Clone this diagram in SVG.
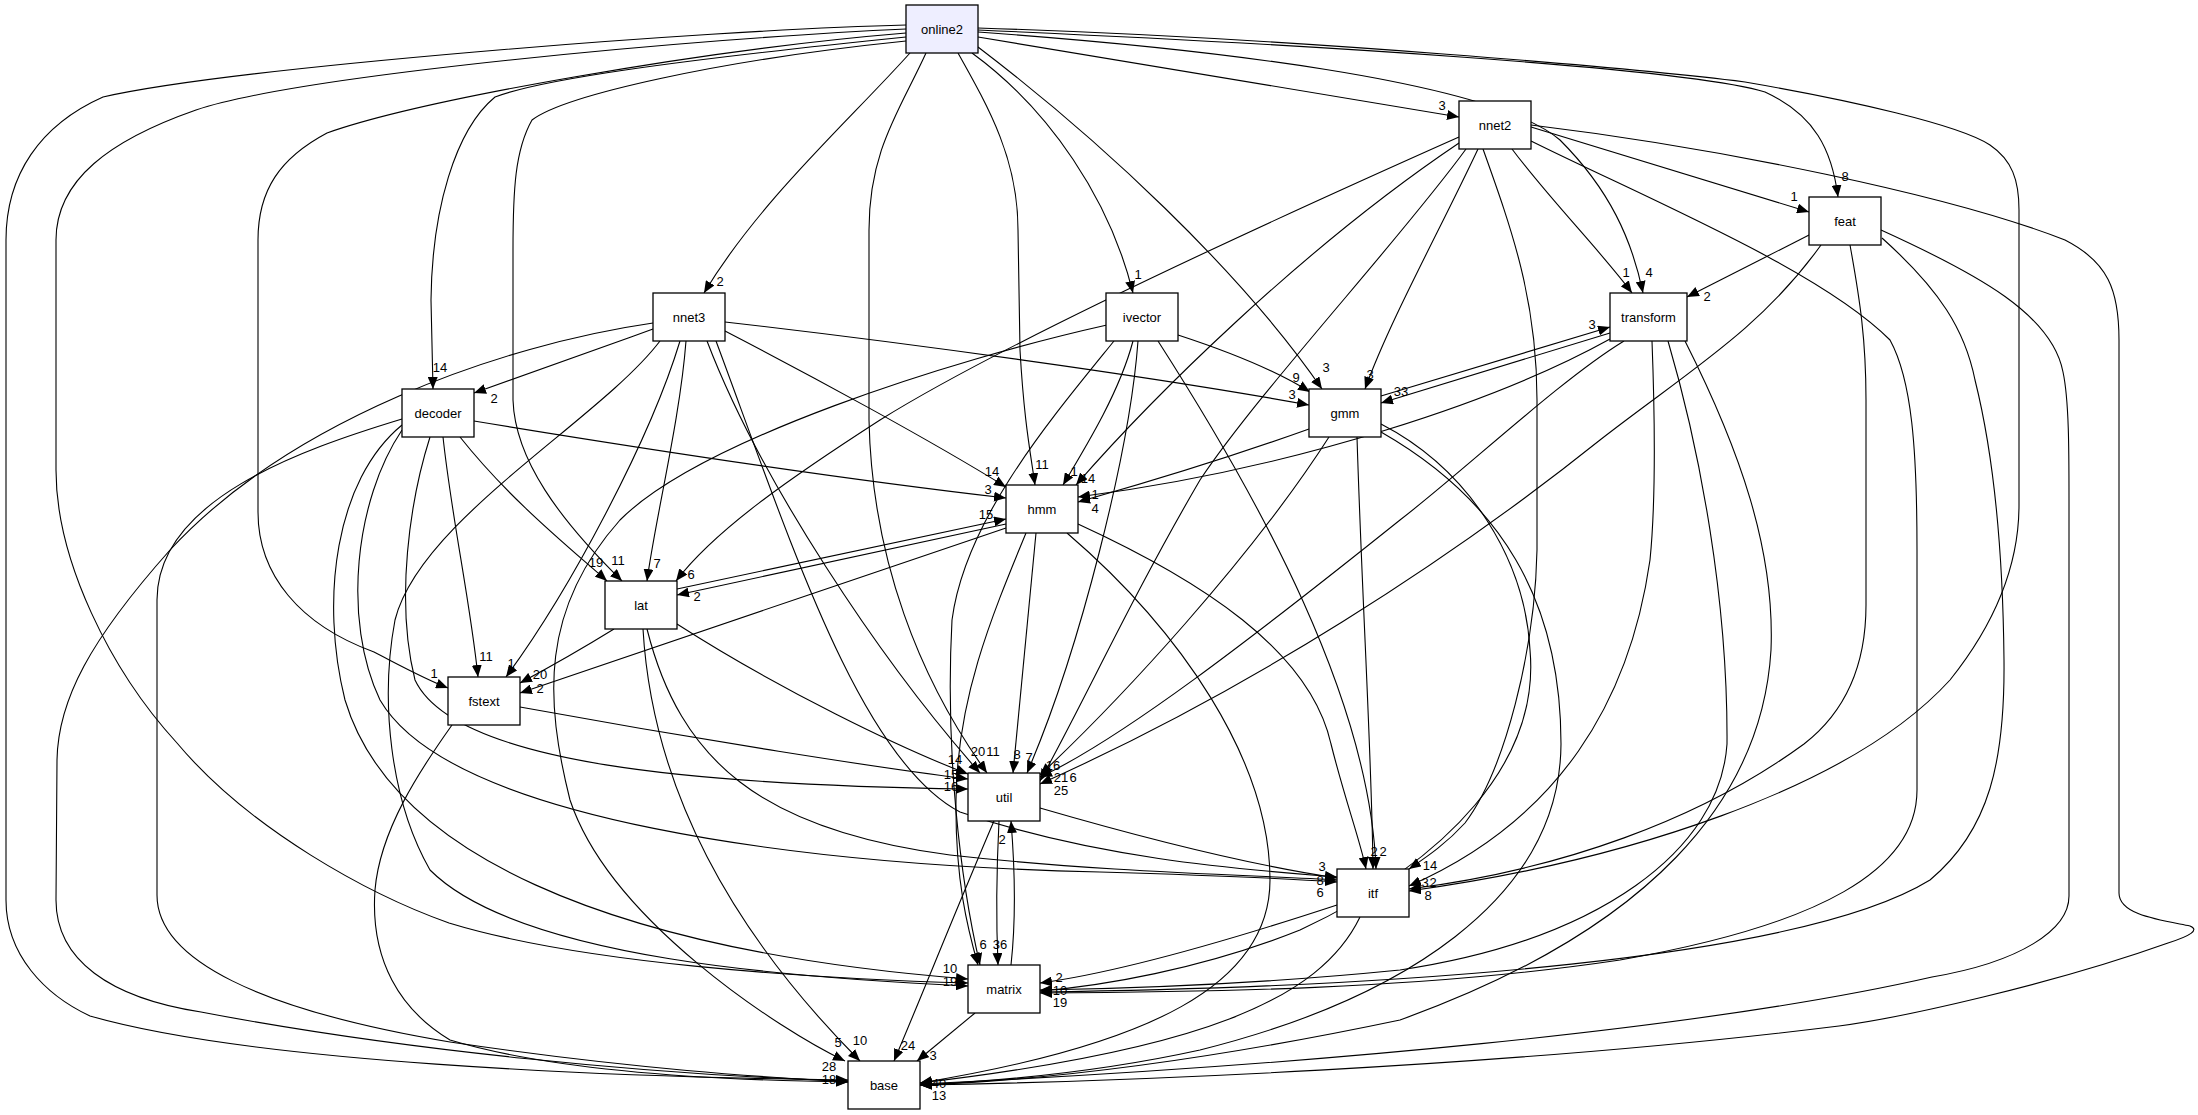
<svg xmlns="http://www.w3.org/2000/svg" width="2198" height="1115" viewBox="0 0 2198 1115">
<style>
.n rect{fill:#ffffff;stroke:#000000;stroke-width:1.3}
.n text{font-family:"Liberation Sans",Arial,sans-serif;font-size:13px;text-anchor:middle;fill:#000}
#edges path{fill:none;stroke:#000;stroke-width:1.1;marker-end:url(#ah)}
#labels text{font-family:"Liberation Sans Narrow","Liberation Sans",Arial,sans-serif;font-size:13px;text-anchor:middle;fill:#000}
</style>
<defs>
<marker id="ah" viewBox="0 0 12 10" refX="12" refY="5" markerWidth="12" markerHeight="10" markerUnits="userSpaceOnUse" orient="auto"><path d="M0,0L12,5L0,10z" fill="#000"/></marker>
</defs>
<rect width="2198" height="1115" fill="#fff"/>
<g id="edges">
<path d="M906,25 C700,30 230,68 103,97 C40,125 6,175 6,240 L6,900 C6,955 45,995 90,1016 C250,1062 600,1077 848,1080"/>
<path d="M906,29 C700,38 300,75 196,110 C110,140 56,180 56,240 L56,470 C56,560 110,670 177,743 C250,830 370,895 449,923 C580,963 800,978 968,983"/>
<path d="M906,33 C700,50 420,100 327,133 C280,158 258,190 258,240 L258,512 C258,575 300,625 374,652 C405,668 425,679 448,688"/>
<path d="M906,37 C660,62 540,80 495,97 C455,130 432,210 431,300 L433,389"/>
<path d="M906,41 C720,60 565,95 532,120 C515,150 513,190 513,250 L513,400 C515,460 560,520 622,581"/>
<path d="M910,53 C850,120 760,200 704,293"/>
<path d="M926,53 C900,110 869,150 869,230 L869,420 C872,560 920,680 987,773"/>
<path d="M958,53 C990,110 1018,160 1018,230 L1020,350 C1024,420 1030,450 1035,485"/>
<path d="M972,53 C1050,110 1110,200 1133,293"/>
<path d="M978,47 C1100,140 1240,270 1322,389"/>
<path d="M978,37 L1459,117"/>
<path d="M978,32 C1200,48 1490,80 1560,140 C1610,190 1632,240 1643,293"/>
<path d="M978,30 C1300,44 1690,68 1765,92 C1815,115 1832,150 1838,197"/>
<path d="M978,28 C1300,38 1650,70 1745,82 C1850,100 1960,125 1990,145 C2012,160 2019,180 2019,210 L2019,505 C2019,570 1990,630 1950,680 C1850,790 1620,862 1409,891"/>
<path d="M1531,127 L1809,212"/>
<path d="M1512,149 C1550,200 1600,250 1632,293"/>
<path d="M1478,149 C1440,230 1390,320 1365,389"/>
<path d="M1459,143 C1300,250 1150,400 1076,485"/>
<path d="M1459,137 C1250,230 1000,345 880,420 C790,478 715,530 676,581"/>
<path d="M1466,149 C1400,240 1260,390 1200,480 C1130,600 1085,700 1040,781"/>
<path d="M1483,149 C1512,230 1537,300 1537,400 L1537,550 C1535,650 1505,770 1465,823 C1445,845 1425,858 1409,869"/>
<path d="M1531,141 C1650,200 1820,270 1890,340 C1912,380 1917,450 1917,550 L1917,790 C1917,870 1820,925 1620,960 C1420,990 1200,992 1040,993"/>
<path d="M1531,125 C1720,148 1950,195 2065,240 C2108,262 2119,290 2119,340 L2119,893 C2119,915 2160,920 2190,926 C2200,930 2190,936 2168,943 C2050,985 1900,1018 1839,1026 C1500,1068 1100,1082 920,1085"/>
<path d="M653,329 C590,352 525,375 474,393"/>
<path d="M653,323 C500,345 290,420 170,550 C90,640 58,700 57,760 L56,900 C56,960 110,998 201,1012 C400,1050 650,1075 848,1081"/>
<path d="M680,341 C650,440 570,590 506,677"/>
<path d="M686,341 C680,420 655,520 647,581"/>
<path d="M725,331 C810,375 930,440 1006,487"/>
<path d="M707,341 C760,480 880,660 980,773"/>
<path d="M716,341 C790,540 860,760 960,812 C1100,860 1250,870 1337,877"/>
<path d="M660,341 C600,420 420,520 395,620 C380,700 390,800 430,870 C520,960 800,978 968,986"/>
<path d="M725,322 C900,342 1150,376 1309,405"/>
<path d="M1178,335 C1230,352 1280,373 1310,392"/>
<path d="M1133,341 C1120,390 1090,440 1063,485"/>
<path d="M1138,341 C1130,450 1080,650 1027,773"/>
<path d="M1114,341 C1050,420 965,520 952,620 C945,750 960,880 980,965"/>
<path d="M1158,341 C1260,500 1370,700 1376,869"/>
<path d="M1107,325 C950,360 700,440 620,520 C540,610 545,700 570,800 C610,920 780,1030 845,1061"/>
<path d="M460,437 C510,500 570,548 607,581"/>
<path d="M443,437 C452,520 470,600 478,677"/>
<path d="M474,421 C650,450 850,480 1006,498"/>
<path d="M430,437 C410,500 395,600 415,680 C455,765 700,785 968,789"/>
<path d="M402,425 C335,480 320,600 345,700 C390,850 600,950 968,979"/>
<path d="M402,430 C355,500 342,620 380,700 C450,820 800,865 1100,872 C1200,875 1280,878 1337,882"/>
<path d="M402,419 C300,450 157,500 157,600 L157,895 C157,960 260,1010 450,1042 C650,1072 800,1079 848,1082"/>
<path d="M677,589 L1006,519"/>
<path d="M1006,524 L677,595"/>
<path d="M614,629 C580,650 548,668 520,683"/>
<path d="M677,624 C780,690 900,748 968,774"/>
<path d="M647,629 C680,760 760,830 950,855 C1100,872 1250,875 1337,880"/>
<path d="M643,629 C650,750 700,900 860,1061"/>
<path d="M520,707 C700,740 880,768 968,779"/>
<path d="M452,725 C420,770 380,830 375,890 C370,960 400,1010 450,1040 C550,1070 700,1080 848,1082"/>
<path d="M1006,528 C850,580 650,650 520,693"/>
<path d="M1036,533 L1013,773"/>
<path d="M1026,533 C990,620 957,700 956,800 C955,880 968,930 978,965"/>
<path d="M1078,524 C1200,580 1310,650 1331,744 C1345,800 1360,840 1366,869"/>
<path d="M1067,533 C1180,630 1270,760 1270,880 C1270,985 1150,1045 920,1083"/>
<path d="M1381,396 L1610,327"/>
<path d="M1610,333 L1381,403"/>
<path d="M1309,429 C1200,468 1120,490 1078,502"/>
<path d="M1329,437 C1250,560 1120,700 1040,775"/>
<path d="M1357,437 C1362,600 1372,760 1373,869"/>
<path d="M1381,424 C1470,470 1525,560 1530,650 C1540,760 1450,860 1300,930 C1200,970 1100,986 1040,991"/>
<path d="M1381,432 C1500,500 1561,600 1561,744 C1560,900 1400,1000 1200,1050 C1100,1072 1000,1081 920,1085"/>
<path d="M1610,339 C1500,400 1300,468 1078,497"/>
<path d="M1624,341 C1560,380 1465,470 1400,520 C1250,640 1120,740 1040,777"/>
<path d="M1652,341 C1655,420 1656,500 1650,560 C1630,700 1560,820 1409,886"/>
<path d="M1668,341 C1700,450 1728,600 1727,744 C1720,850 1600,940 1400,970 C1250,985 1100,989 1040,990"/>
<path d="M1685,341 C1740,450 1775,550 1771,650 C1762,800 1650,930 1400,1020 C1200,1062 1050,1080 920,1085"/>
<path d="M1811,234 C1760,260 1720,280 1687,297"/>
<path d="M1821,245 C1760,330 1690,370 1600,440 C1450,560 1250,690 1040,784"/>
<path d="M1850,245 C1860,300 1866,340 1866,400 L1866,605 C1866,680 1835,720 1804,744 C1700,820 1560,870 1409,889"/>
<path d="M1882,238 C1940,290 1965,330 1975,380 C1995,460 2003,560 2004,660 C2005,760 1990,830 1930,880 C1800,960 1400,987 1040,992"/>
<path d="M1881,230 C1980,275 2052,315 2063,372 C2069,400 2069,450 2069,500 L2069,896 C2069,930 2020,962 1932,977 C1700,1030 1300,1066 920,1084"/>
<path d="M1040,808 C1150,840 1250,865 1337,878"/>
<path d="M999,821 C996,880 996,920 998,965"/>
<path d="M994,821 C960,900 920,1000 894,1061"/>
<path d="M1011,965 C1016,920 1015,870 1011,821"/>
<path d="M975,1013 L917,1061"/>
<path d="M1337,905 C1200,950 1100,975 1040,983"/>
<path d="M1360,917 C1320,1000 1200,1050 920,1083"/>
</g>
<g id="labels">
<text x="829" y="1071">28</text><text x="829" y="1084">18</text>
<text x="950" y="973">10</text><text x="950" y="986">19</text>
<text x="434" y="678">1</text>
<text x="440" y="372">14</text>
<text x="618" y="565">11</text>
<text x="720" y="286">2</text>
<text x="993" y="756">11</text>
<text x="1042" y="469">11</text>
<text x="1138" y="279">1</text>
<text x="1326" y="372">3</text>
<text x="1442" y="110">3</text>
<text x="1649" y="277">4</text>
<text x="1845" y="181">8</text>
<text x="1794" y="201">1</text>
<text x="1626" y="277">1</text>
<text x="1370" y="379">3</text>
<text x="1088" y="483">14</text>
<text x="691" y="579">6</text>
<text x="1061" y="795">25</text>
<text x="1430" y="870">14</text>
<text x="1060" y="995">10</text><text x="1060" y="1007">19</text>
<text x="939" y="1088">40</text><text x="939" y="1100">13</text>
<text x="494" y="403">2</text>
<text x="511" y="668">1</text>
<text x="657" y="568">7</text>
<text x="992" y="476">14</text>
<text x="978" y="756">20</text>
<text x="1292" y="399">3</text>
<text x="1296" y="382">9</text>
<text x="1074" y="476">1</text>
<text x="1029" y="762">7</text>
<text x="983" y="949">6</text>
<text x="1000" y="949">36</text>
<text x="838" y="1047">5</text>
<text x="596" y="567">19</text>
<text x="486" y="661">11</text>
<text x="988" y="494">3</text>
<text x="951" y="779">15</text><text x="951" y="791">16</text>
<text x="1320" y="885">8</text><text x="1320" y="897">6</text>
<text x="986" y="519">15</text>
<text x="697" y="601">2</text>
<text x="540" y="679">20</text>
<text x="955" y="764">14</text>
<text x="860" y="1045">10</text>
<text x="540" y="693">2</text>
<text x="1017" y="759">8</text>
<text x="1374" y="856">2</text>
<text x="1383" y="856">2</text>
<text x="1592" y="329">3</text>
<text x="1401" y="396">33</text>
<text x="1095" y="513">4</text>
<text x="1053" y="770">16</text>
<text x="1095" y="499">1</text>
<text x="1061" y="782">21</text><text x="1073" y="782">6</text>
<text x="1425" y="887">3</text><text x="1433" y="887">2</text>
<text x="1428" y="900">8</text>
<text x="1707" y="301">2</text>
<text x="1322" y="871">3</text>
<text x="908" y="1050">24</text>
<text x="1002" y="844">2</text>
<text x="933" y="1060">3</text>
<text x="1059" y="982">2</text>
</g>
<g id="node-online2" class="n"><rect x="906" y="5" width="72" height="48" style="fill:#eeeeff"/><text x="942" y="33.5">online2</text></g>
<g id="node-nnet2" class="n"><rect x="1459" y="101" width="72" height="48"/><text x="1495" y="129.5">nnet2</text></g>
<g id="node-feat" class="n"><rect x="1809" y="197" width="72" height="48"/><text x="1845" y="225.5">feat</text></g>
<g id="node-nnet3" class="n"><rect x="653" y="293" width="72" height="48"/><text x="689" y="321.5">nnet3</text></g>
<g id="node-ivector" class="n"><rect x="1106" y="293" width="72" height="48"/><text x="1142" y="321.5">ivector</text></g>
<g id="node-transform" class="n"><rect x="1610" y="293" width="77" height="48"/><text x="1648.5" y="321.5">transform</text></g>
<g id="node-decoder" class="n"><rect x="402" y="389" width="72" height="48"/><text x="438" y="417.5">decoder</text></g>
<g id="node-gmm" class="n"><rect x="1309" y="389" width="72" height="48"/><text x="1345" y="417.5">gmm</text></g>
<g id="node-hmm" class="n"><rect x="1006" y="485" width="72" height="48"/><text x="1042" y="513.5">hmm</text></g>
<g id="node-lat" class="n"><rect x="605" y="581" width="72" height="48"/><text x="641" y="609.5">lat</text></g>
<g id="node-fstext" class="n"><rect x="448" y="677" width="72" height="48"/><text x="484" y="705.5">fstext</text></g>
<g id="node-util" class="n"><rect x="968" y="773" width="72" height="48"/><text x="1004" y="801.5">util</text></g>
<g id="node-itf" class="n"><rect x="1337" y="869" width="72" height="48"/><text x="1373" y="897.5">itf</text></g>
<g id="node-matrix" class="n"><rect x="968" y="965" width="72" height="48"/><text x="1004" y="993.5">matrix</text></g>
<g id="node-base" class="n"><rect x="848" y="1061" width="72" height="48"/><text x="884" y="1089.5">base</text></g>
</svg>
